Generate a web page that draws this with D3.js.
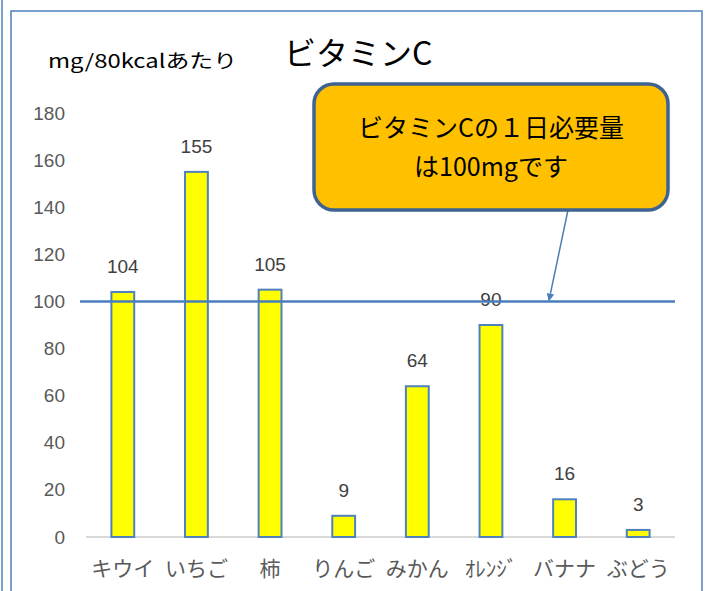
<!DOCTYPE html>
<html>
<head>
<meta charset="utf-8">
<script src="https://cdn.jsdelivr.net/npm/d3@7"></script>
<style>
  body { margin: 0; background: #fff; }
  text { font-family: "Liberation Sans", Arial, sans-serif; }
  .jp { font-family: "Noto Sans CJK JP", sans-serif; }
</style>
</head>
<body>
<div id="chart"></div>
<script>
// data
const fruits = ["キウイ", "いちご", "柿", "りんご", "みかん", "ｵﾚﾝｼﾞ", "バナナ", "ぶどう"];
const vitaminC = [104, 155, 105, 9, 64, 90, 16, 3];
const yTicks = [0, 20, 40, 60, 80, 100, 120, 140, 160, 180];
const requirement = 100;

const W = 709, H = 591;
const margin = { top: 113, right: 34, bottom: 54, left: 86 };
const width = W - margin.left - margin.right;
const height = H - margin.top - margin.bottom;

const svg = d3.select("#chart").append("svg")
    .attr("width", W)
    .attr("height", H);

// chart frame
svg.append("line").attr("x1", 2).attr("x2", 2).attr("y1", 0).attr("y2", H)
    .attr("stroke", "#4f81bd").attr("stroke-width", 1.5);
svg.append("path")
    .attr("d", "M11," + H + " V11 H702 V" + H)
    .attr("fill", "none").attr("stroke", "#4f81bd").attr("stroke-width", 1.5);

const g = svg.append("g")
    .attr("transform", "translate(" + margin.left + "," + margin.top + ")");

const x = d3.scaleBand().domain(fruits).range([0, width]).padding(0);
const y = d3.scaleLinear().domain([0, 180]).range([height, 0]);

// y axis labels (no line)
const yAxis = g.append("g")
    .call(d3.axisLeft(y).tickValues(yTicks).tickSize(0).tickPadding(21));
yAxis.select(".domain").remove();
yAxis.selectAll("text")
    .style("font-size", "19px")
    .style("font-family", "'Liberation Sans', Arial, sans-serif")
    .attr("fill", "#595959");

// x baseline
g.append("line")
    .attr("x1", 0).attr("x2", width)
    .attr("y1", y(0)).attr("y2", y(0))
    .attr("stroke", "#d9d9d9").attr("stroke-width", 2);

// bars
const barW = x.bandwidth() * 0.31;
g.selectAll(".bar")
    .data(vitaminC)
    .enter().append("rect")
    .attr("class", "bar")
    .attr("x", (d, i) => x(fruits[i]) + x.bandwidth() / 2 - barW / 2)
    .attr("y", d => y(d))
    .attr("width", barW)
    .attr("height", d => y(0) - y(d))
    .attr("fill", "#ffff00")
    .attr("stroke", "#4f81bd")
    .attr("stroke-width", 2);

// value labels
g.selectAll(".val")
    .data(vitaminC)
    .enter().append("text")
    .attr("class", "val")
    .attr("x", (d, i) => x(fruits[i]) + x.bandwidth() / 2)
    .attr("y", d => y(d) - 19)
    .attr("text-anchor", "middle")
    .style("font-size", "19px")
    .attr("fill", "#404040")
    .text(d => d);

// x labels
g.selectAll(".cat")
    .data(fruits)
    .enter().append("text")
    .attr("class", "cat jp")
    .attr("x", d => x(d) + x.bandwidth() / 2)
    .attr("y", height + 39)
    .attr("text-anchor", "middle")
    .style("font-size", "21px")
    .attr("fill", "#595959")
    .text(d => d);

// requirement line
g.append("line")
    .attr("x1", -6).attr("x2", width)
    .attr("y1", y(requirement)).attr("y2", y(requirement))
    .attr("stroke", "#4a7ebb").attr("stroke-width", 2.5);

// title + unit
svg.append("text")
    .attr("class", "jp")
    .attr("x", 284).attr("y", 65)
    .style("font-size", "32px")
    .attr("fill", "#000")
    .text("ビタミンC");
svg.append("text")
    .attr("class", "jp")
    .attr("x", 48).attr("y", 68)
    .style("font-size", "19px")
    .attr("textLength", 189)
    .attr("lengthAdjust", "spacingAndGlyphs")
    .attr("fill", "#000")
    .text("mg/80kcalあたり");

// callout
svg.append("defs").append("marker")
    .attr("id", "arrow")
    .attr("viewBox", "0 0 10 10")
    .attr("refX", 9).attr("refY", 5)
    .attr("markerWidth", 5).attr("markerHeight", 5)
    .attr("orient", "auto")
    .append("path").attr("d", "M0,0 L10,5 L0,10 z").attr("fill", "#4a7ebb");

svg.append("line")
    .attr("x1", 568).attr("y1", 210)
    .attr("x2", margin.left + 463).attr("y2", margin.top + y(requirement) - 1)
    .attr("stroke", "#4a7ebb").attr("stroke-width", 1.5)
    .attr("marker-end", "url(#arrow)");

svg.append("rect")
    .attr("x", 314).attr("y", 84)
    .attr("width", 354).attr("height", 126)
    .attr("rx", 20).attr("ry", 20)
    .attr("fill", "#ffc000")
    .attr("stroke", "#3e6390").attr("stroke-width", 3.5);

const callout = svg.append("text")
    .attr("class", "jp")
    .attr("x", 491).attr("text-anchor", "middle")
    .style("font-size", "25px")
    .attr("fill", "#000");
callout.append("tspan").attr("x", 491).attr("y", 137).text("ビタミンCの１日必要量");
callout.append("tspan").attr("x", 491).attr("y", 176).text("は100mgです");
</script>
</body>
</html>
